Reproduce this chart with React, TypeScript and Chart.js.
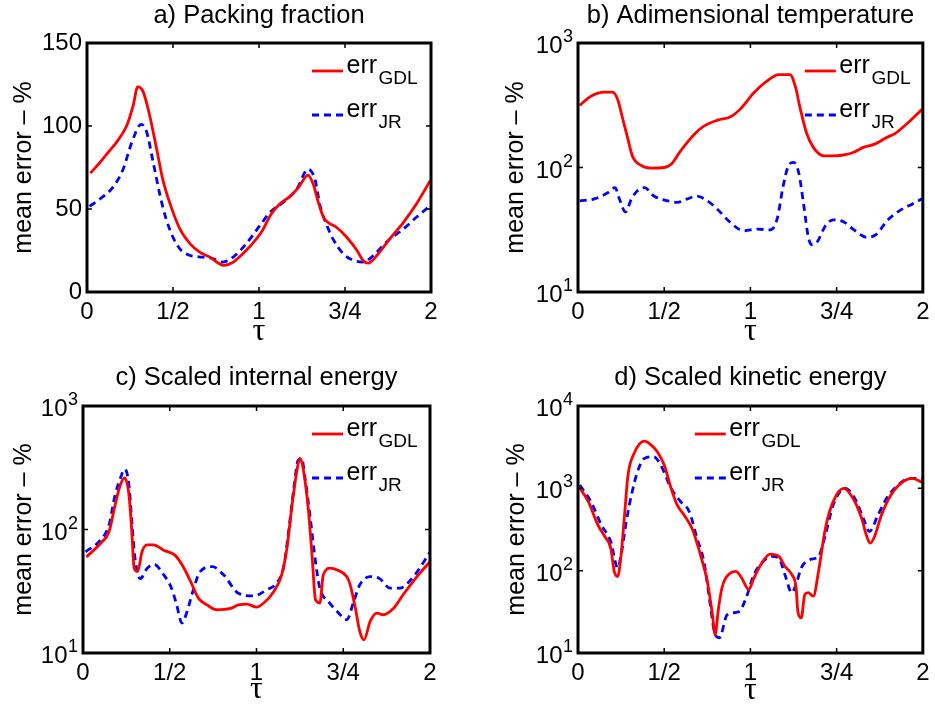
import React, { useEffect, useRef } from 'react';
import { Chart, registerables } from 'chart.js';

Chart.register(...registerables);

const FONT = '"Liberation Sans", Arial, Helvetica, sans-serif';
const SERIF = '"Liberation Serif", "Times New Roman", serif';

// ---------- shared axis data ----------
const xTickValues = [0, 1, 2, 3, 4];
const xTickLabels = ['0', '1/2', '1', '3/4', '2'];
const xAxisTitle = 'τ';
const yAxisTitle = 'mean error – %';
const legendMain = 'err';
const seriesNames = ['GDL', 'JR'];
const logBase = '10';

// ---------- a) Packing fraction ----------
const aTitle = 'a) Packing fraction';
const aYTicks = [0, 50, 100, 150];
const aYTickLabels = ['0', '50', '100', '150'];
const aGdlTau = [0.04, 0.15, 0.26, 0.34, 0.46, 0.535, 0.59, 0.65, 0.73, 0.81, 0.88, 0.96, 1.08, 1.2, 1.31, 1.43, 1.54, 1.59, 1.7, 1.85, 1.97, 2.05, 2.13, 2.24, 2.36, 2.46, 2.57, 2.63, 2.69, 2.75, 2.8, 2.9, 3.02, 3.14, 3.21, 3.27, 3.37, 3.52, 3.68, 3.83, 3.99];
const aGdl = [71.6, 78, 85, 90, 100, 112, 123.6, 121, 106, 86, 68, 54, 38, 29, 24, 21, 17, 16, 18, 25, 32, 38, 46, 53, 57.6, 63, 70.4, 65, 54, 45, 42, 39, 33, 25, 19, 17.4, 22, 32, 42, 53, 67];
const aJrTau = [0.03, 0.15, 0.3, 0.42, 0.52, 0.63, 0.69, 0.77, 0.85, 0.92, 1.0, 1.08, 1.2, 1.35, 1.47, 1.58, 1.7, 1.85, 2.01, 2.13, 2.28, 2.44, 2.57, 2.65, 2.71, 2.79, 2.86, 2.98, 3.1, 3.21, 3.33, 3.48, 3.68, 3.83, 3.99];
const aJr = [51.6, 56, 63, 74, 90, 101, 97, 78, 58, 44, 33, 26, 22, 21, 20, 18, 21, 29, 40, 48, 54, 62, 74, 68, 52, 40, 32, 23, 19, 18, 22, 30, 38, 45, 52];

// ---------- b) Adimensional temperature ----------
const bTitle = 'b) Adimensional temperature';
const bYTicks = [10, 100, 1000];
const bYTickExps = ['1', '2', '3'];
const bGdlTau = [0.02, 0.15, 0.31, 0.4, 0.46, 0.52, 0.58, 0.63, 0.73, 0.85, 1.0, 1.08, 1.19, 1.35, 1.46, 1.62, 1.77, 1.88, 2.04, 2.19, 2.33, 2.46, 2.52, 2.58, 2.65, 2.73, 2.85, 2.92, 3.08, 3.19, 3.31, 3.44, 3.58, 3.69, 3.85, 3.99];
const bGdl = [316, 374, 403, 403, 352, 244, 168, 124, 104, 99, 100, 106, 136, 185, 215, 240, 256, 293, 398, 494, 558, 558, 450, 293, 190, 145, 124, 124, 126, 132, 145, 154, 174, 190, 236, 293];
const bJrTau = [0.02, 0.19, 0.35, 0.43, 0.48, 0.55, 0.62, 0.69, 0.77, 0.88, 1.04, 1.15, 1.27, 1.38, 1.5, 1.62, 1.77, 1.92, 2.08, 2.23, 2.31, 2.38, 2.44, 2.5, 2.56, 2.62, 2.67, 2.71, 2.77, 2.87, 2.96, 3.08, 3.19, 3.35, 3.46, 3.58, 3.73, 3.88, 3.99];
const bJr = [54, 56, 63, 69, 56, 44, 56, 65, 69, 59, 54, 52.5, 56, 59, 54, 46, 36, 31, 32, 31.5, 38.6, 71, 103, 110, 91, 49, 28, 24, 25, 34, 38, 36.7, 32, 27.5, 29, 37, 45, 51, 56];

// ---------- c) Scaled internal energy ----------
const cTitle = 'c) Scaled internal energy';
const cYTicks = [10, 100, 1000];
const cYTickExps = ['1', '2', '3'];
const cGdlTau = [0.04, 0.2, 0.3, 0.37, 0.43, 0.48, 0.53, 0.56, 0.59, 0.63, 0.68, 0.74, 0.81, 0.93, 1.06, 1.14, 1.24, 1.33, 1.43, 1.54, 1.7, 1.79, 1.89, 2.0, 2.08, 2.2, 2.29, 2.35, 2.41, 2.47, 2.5, 2.55, 2.6, 2.64, 2.68, 2.73, 2.77, 2.85, 2.93, 3.04, 3.08, 3.14, 3.19, 3.24, 3.31, 3.39, 3.46, 3.58, 3.69, 3.85, 4.0];
const cGdl = [60, 77, 96, 158, 229, 262, 190, 102, 48.5, 45.7, 66, 75, 75, 68, 62, 52, 38, 27.8, 24.5, 22.4, 23, 24.5, 24.9, 23.5, 25.3, 31.5, 43, 70, 158, 312, 376, 275, 139, 62, 27, 25.4, 43, 48.6, 47, 41.6, 35.6, 23, 15, 12.8, 18, 21, 20.4, 23, 29.6, 41.6, 55];
const cJrTau = [0.03, 0.2, 0.3, 0.37, 0.43, 0.48, 0.53, 0.56, 0.6, 0.66, 0.74, 0.82, 0.93, 1.02, 1.08, 1.14, 1.2, 1.26, 1.35, 1.49, 1.62, 1.79, 1.97, 2.12, 2.23, 2.31, 2.37, 2.43, 2.48, 2.52, 2.56, 2.62, 2.68, 2.73, 2.83, 2.93, 3.04, 3.12, 3.19, 3.31, 3.42, 3.54, 3.65, 3.81, 4.0];
const cJr = [66, 82, 109, 190, 259, 308, 229, 123, 58, 40, 48.6, 52, 43, 33.5, 24.5, 17.5, 21.7, 30.5, 45.6, 50, 43, 30.5, 29, 32.5, 36.7, 48.6, 96, 215, 364, 376, 259, 123, 55, 33.5, 26, 21.7, 18.6, 26, 35.6, 41.6, 40, 33.5, 33.5, 41.6, 65.5];

// ---------- d) Scaled kinetic energy ----------
const dTitle = 'd) Scaled kinetic energy';
const dYTicks = [10, 100, 1000, 10000];
const dYTickExps = ['1', '2', '3', '4'];
const dGdlTau = [0.01, 0.12, 0.23, 0.31, 0.38, 0.42, 0.46, 0.5, 0.54, 0.58, 0.65, 0.77, 0.85, 0.92, 1.0, 1.08, 1.15, 1.23, 1.33, 1.42, 1.5, 1.56, 1.59, 1.63, 1.67, 1.77, 1.83, 1.9, 1.98, 2.04, 2.12, 2.23, 2.33, 2.4, 2.48, 2.53, 2.55, 2.59, 2.63, 2.67, 2.73, 2.79, 2.87, 2.96, 3.08, 3.19, 3.29, 3.35, 3.39, 3.44, 3.52, 3.63, 3.77, 3.88, 3.99];
const dGdl = [1047, 690, 360, 260, 188, 98, 85, 156, 475, 1450, 2650, 3740, 3350, 2780, 1915, 1000, 628, 475, 313, 156, 74, 29, 16.8, 35, 62, 94, 98, 81, 59, 81, 118, 159, 149, 113, 89.5, 62, 32, 26.7, 51, 54, 49, 98, 328, 690, 1000, 757, 433, 260, 216, 260, 475, 830, 1205, 1322, 1183];
const dJrTau = [0.02, 0.15, 0.27, 0.38, 0.46, 0.5, 0.56, 0.62, 0.69, 0.77, 0.88, 0.96, 1.08, 1.19, 1.29, 1.38, 1.46, 1.54, 1.58, 1.64, 1.73, 1.87, 1.95, 2.04, 2.15, 2.25, 2.33, 2.4, 2.48, 2.54, 2.59, 2.69, 2.79, 2.87, 2.96, 3.1, 3.21, 3.31, 3.38, 3.48, 3.58, 3.69, 3.85, 3.99];
const dJr = [1097, 690, 360, 226, 108, 156, 395, 830, 1590, 2310, 2420, 1915, 1000, 690, 522, 248, 130, 35, 18.5, 15.3, 29, 32, 46.7, 89.5, 130, 149, 142, 89.5, 54, 74, 108, 136, 149, 272, 628, 1000, 757, 433, 299, 475, 757, 1047, 1322, 1322];

// ---------- layout (positions/sizes only) ----------
type PanelCfg = {
  key: string; left: number; top: number; w: number; h: number;
  plot: { l: number; t: number; r: number; b: number };
  title: string; log: boolean; ymin: number; ymax: number;
  yTicks: number[]; yLabels: string[];
  gdlTau: number[]; gdl: number[]; jrTau: number[]; jr: number[];
  titleTop: number; yTitlePad: number; xTitlePad: number;
  legendFromRight: number;
};

const panels: PanelCfg[] = [
  { key: 'a', left: 0, top: 0, w: 467, h: 355, plot: { l: 87, t: 43, r: 431, b: 292 }, title: aTitle, log: false, ymin: 0, ymax: 150, yTicks: aYTicks, yLabels: aYTickLabels, gdlTau: aGdlTau, gdl: aGdl, jrTau: aJrTau, jr: aJr, titleTop: 0.5, yTitlePad: 9, xTitlePad: 4, legendFromRight: 119 },
  { key: 'b', left: 467, top: 0, w: 468, h: 355, plot: { l: 111, t: 43, r: 458, b: 292 }, title: bTitle, log: true, ymin: 10, ymax: 1000, yTicks: bYTicks, yLabels: bYTickExps, gdlTau: bGdlTau, gdl: bGdl, jrTau: bJrTau, jr: bJr, titleTop: 0.5, yTitlePad: 34.5, xTitlePad: 4, legendFromRight: 118 },
  { key: 'c', left: 0, top: 355, w: 467, h: 356, plot: { l: 83, t: 51, r: 430, b: 298 }, title: cTitle, log: true, ymin: 10, ymax: 1000, yTicks: cYTicks, yLabels: cYTickExps, gdlTau: cGdlTau, gdl: cGdl, jrTau: cJrTau, jr: cJr, titleTop: 8, yTitlePad: 9, xTitlePad: 2, legendFromRight: 118 },
  { key: 'd', left: 467, top: 355, w: 468, h: 356, plot: { l: 111, t: 51, r: 458, b: 298 }, title: dTitle, log: true, ymin: 10, ymax: 10000, yTicks: dYTicks, yLabels: dYTickExps, gdlTau: dGdlTau, gdl: dGdl, jrTau: dJrTau, jr: dJr, titleTop: 8, yTitlePad: 35.5, xTitlePad: 1, legendFromRight: 228 },
];

const framePlugin = {
  id: 'frame',
  afterDatasetsDraw(chart: any) {
    const { ctx, chartArea } = chart;
    const { left, top, right, bottom } = chartArea;
    const xs = chart.scales.x;
    const ys = chart.scales.y;
    ctx.save();
    ctx.strokeStyle = '#000';
    ctx.lineWidth = 1.5;
    ctx.setLineDash([]);
    const tl = 5;
    xs.ticks.forEach((t: any) => {
      const p = xs.getPixelForValue(t.value);
      if (p <= left + 2 || p >= right - 2) return;
      ctx.beginPath();
      ctx.moveTo(p, bottom); ctx.lineTo(p, bottom - tl);
      ctx.moveTo(p, top); ctx.lineTo(p, top + tl);
      ctx.stroke();
    });
    ys.ticks.forEach((t: any) => {
      const p = ys.getPixelForValue(t.value);
      if (p <= top + 2 || p >= bottom - 2) return;
      ctx.beginPath();
      ctx.moveTo(left, p); ctx.lineTo(left + tl, p);
      ctx.moveTo(right, p); ctx.lineTo(right - tl, p);
      ctx.stroke();
    });
    ctx.lineWidth = 3;
    ctx.strokeRect(left, top, right - left, bottom - top);
    ctx.restore();
  },
  afterDraw(chart: any, _args: any, opts: any) {
    const { ctx, chartArea } = chart;
    // power-of-ten tick labels with a real superscript exponent
    if (opts.logExps) {
      const ys = chart.scales.y;
      ctx.save();
      ctx.fillStyle = '#000';
      ctx.textBaseline = 'alphabetic';
      ctx.textAlign = 'right';
      ys.ticks.forEach((t: any, i: number) => {
        const p = ys.getPixelForValue(t.value);
        const rx = chartArea.left - 5;
        ctx.font = `18px ${FONT}`;
        const exp = opts.logExps[i];
        const ew = ctx.measureText(exp).width;
        ctx.fillText(exp, rx, p - 1);
        ctx.font = `24px ${FONT}`;
        ctx.fillText(logBase, rx - ew - 0.5, p + 10);
      });
      ctx.restore();
    }
    const x0 = chartArea.right - opts.fromRight;
    const x1 = x0 + 31;
    const rows = [28, 72];
    chart.data.datasets.forEach((ds: any, i: number) => {
      const y = chartArea.top + rows[i];
      ctx.save();
      ctx.strokeStyle = ds.borderColor;
      ctx.lineWidth = ds.borderWidth;
      ctx.setLineDash(ds.borderDash || []);
      ctx.beginPath();
      ctx.moveTo(x0, y);
      ctx.lineTo(x1, y);
      ctx.stroke();
      ctx.setLineDash([]);
      ctx.fillStyle = '#000';
      ctx.textAlign = 'left';
      ctx.textBaseline = 'alphabetic';
      ctx.font = `25px ${FONT}`;
      const tx = x1 + 3.5;
      ctx.fillText(legendMain, tx, y + 1.5);
      const w = ctx.measureText(legendMain).width;
      ctx.font = `19px ${FONT}`;
      ctx.fillText(ds.label, tx + w + 1.5, y + 13);
      ctx.restore();
    });
  },
};

function Panel({ cfg }: { cfg: PanelCfg }) {
  const ref = useRef<HTMLCanvasElement>(null);
  useEffect(() => {
    const canvas = ref.current;
    if (!canvas) return;
    const toPts = (t: number[], v: number[]) => t.map((x, i) => ({ x, y: v[i] }));
    const chart = new Chart(canvas, {
      type: 'line',
      data: {
        datasets: [
          { label: seriesNames[0], data: toPts(cfg.gdlTau, cfg.gdl), borderColor: '#ff0000', borderWidth: 2.8, pointRadius: 0, cubicInterpolationMode: 'monotone', fill: false },
          { label: seriesNames[1], data: toPts(cfg.jrTau, cfg.jr), borderColor: '#0000ff', borderWidth: 2.8, borderDash: [7, 5], pointRadius: 0, cubicInterpolationMode: 'monotone', fill: false },
        ],
      },
      options: {
        responsive: false,
        animation: false,
        devicePixelRatio: 1,
        events: [],
        layout: { padding: { left: 0, top: 0, bottom: 0, right: cfg.w - cfg.plot.r } },
        plugins: {
          legend: { display: false },
          tooltip: { enabled: false },
          title: {
            display: true,
            text: cfg.title,
            fullSize: false,
            color: '#000',
            font: { family: FONT, size: 25.5, weight: 'normal', lineHeight: 1.2 },
            padding: { top: cfg.titleTop, bottom: cfg.plot.t - 30.6 - cfg.titleTop },
          },
          frame: { fromRight: cfg.legendFromRight, logExps: cfg.log ? cfg.yLabels : null },
        } as any,
        scales: {
          x: {
            type: 'linear',
            min: 0,
            max: 4,
            grid: { display: false, drawTicks: false },
            border: { display: false },
            ticks: {
              autoSkip: false,
              maxRotation: 0,
              padding: 5.5,
              color: '#000',
              font: { family: FONT, size: 24 },
              callback: (_v: any, i: number) => xTickLabels[i] ?? '',
            },
            afterBuildTicks: (s: any) => { s.ticks = xTickValues.map((v) => ({ value: v })); },
            afterFit: (s: any) => { s.height = cfg.h - cfg.plot.b; },
            title: { display: true, text: xAxisTitle, color: '#000', font: { family: SERIF, size: 32, lineHeight: 1.2 }, padding: { top: 0, bottom: cfg.xTitlePad } },
          },
          y: {
            type: cfg.log ? 'logarithmic' : 'linear',
            min: cfg.ymin,
            max: cfg.ymax,
            grid: { display: false, drawTicks: false },
            border: { display: false },
            ticks: {
              display: !cfg.log,
              autoSkip: false,
              padding: 5,
              color: '#000',
              font: { family: FONT, size: 24 },
              callback: (_v: any, i: number) => cfg.yLabels[i] ?? '',
            },
            afterBuildTicks: (s: any) => { s.ticks = cfg.yTicks.map((v) => ({ value: v })); },
            afterFit: (s: any) => { s.width = cfg.plot.l; },
            title: { display: true, text: yAxisTitle, color: '#000', font: { family: FONT, size: 25, lineHeight: 1.2 }, padding: { top: cfg.yTitlePad, bottom: 0 } },
          },
        } as any,
      },
      plugins: [framePlugin],
    } as any);
    return () => chart.destroy();
  }, [cfg]);
  return (
    <canvas
      ref={ref}
      width={cfg.w}
      height={cfg.h}
      style={{ position: 'absolute', left: cfg.left, top: cfg.top, width: cfg.w, height: cfg.h, display: 'block' }}
    />
  );
}

export default function App() {
  return (
    <div style={{ position: 'absolute', left: 0, top: 0, width: 935, height: 711, background: '#ffffff', overflow: 'hidden' }}>
      {panels.map((p) => (
        <Panel key={p.key} cfg={p} />
      ))}
    </div>
  );
}
